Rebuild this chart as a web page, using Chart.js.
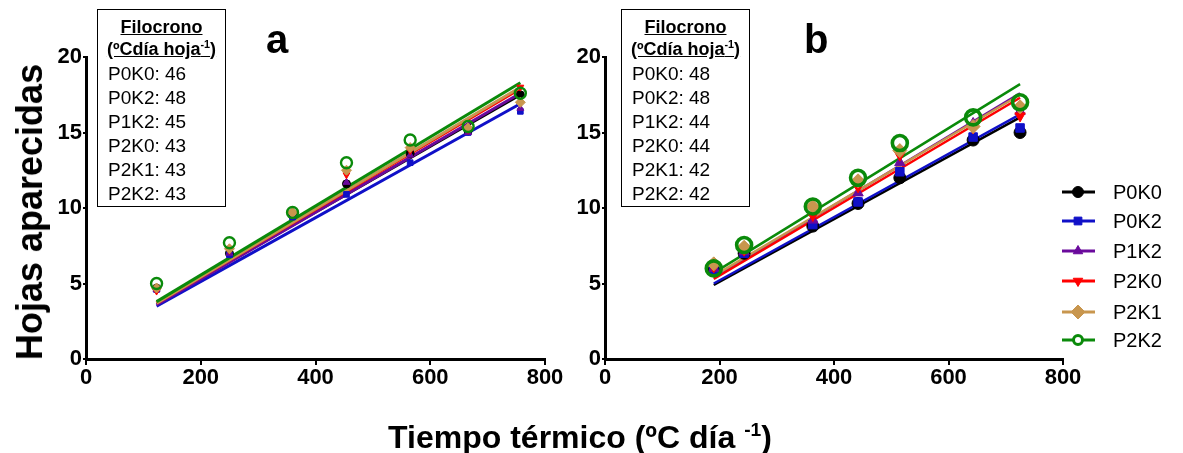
<!DOCTYPE html>
<html>
<head>
<meta charset="utf-8">
<script src="https://cdn.jsdelivr.net/npm/chart.js@4.4.1/dist/chart.umd.min.js"></script>
<style>
  body { margin: 0; background: #fff; font-family: 'Liberation Sans', Arial, sans-serif; }
  #wrap { position: relative; width: 1183px; height: 453px; overflow: hidden; }
  canvas { position: absolute; top: 0; }
  .box { position: absolute; top: 9px; width: 129px; height: 198px; border: 1.5px solid #000; font-size: 19px; line-height: 24px; padding-left: 10px; box-sizing: border-box; }
  .box .t { font-weight: bold; text-decoration: underline; text-align: center; margin-left: -10px; font-size: 18px; line-height: 22px; }
  .box .t1 { margin-top: 6px; }
  .box sup { line-height: 0; font-size: 0.6em; }
  .rows { margin-top: 2px; }
  .letter { position: absolute; font-weight: bold; font-size: 40px; }
  .ytitle { position: absolute; left: 30px; top: 212px; transform: translate(-50%, -50%) rotate(-90deg); font-weight: bold; font-size: 36px; white-space: nowrap; }
  .xtitle { position: absolute; left: 580px; top: 437px; transform: translate(-50%, -50%); font-weight: bold; font-size: 32px; white-space: nowrap; }
  .xtitle sup { font-size: 0.6em; line-height: 0; }
</style>
</head>
<body>
<div id="wrap">
  <canvas id="chartA" width="580" height="453" style="left:0;width:580px;height:453px"></canvas>
  <canvas id="chartB" width="663" height="453" style="left:520px;width:663px;height:453px"></canvas>
  <div class="box" style="left:97px">
    <div class="t t1">Filocrono</div>
    <div class="t">(ºCdía hoja<sup>-1</sup>)</div>
    <div class="rows" id="rowsA"></div>
  </div>
  <div class="box" style="left:621px">
    <div class="t t1">Filocrono</div>
    <div class="t">(ºCdía hoja<sup>-1</sup>)</div>
    <div class="rows" id="rowsB"></div>
  </div>
  <div class="letter" style="left:266px;top:17px">a</div>
  <div class="letter" style="left:804px;top:17px">b</div>
  <div class="ytitle">Hojas aparecidas</div>
  <div class="xtitle">Tiempo térmico (ºC día <sup>-1</sup>)</div>
</div>
<script>
const series = ['P0K0', 'P0K2', 'P1K2', 'P2K0', 'P2K1', 'P2K2'];
const colors = ['#000000', '#1010c8', '#6a0a9c', '#ff0000', '#c8964e', '#0a8a0a'];

// panel a
const xA = [123, 250, 360, 454, 565, 666, 757];
const P0K0_a = [4.7, 7.0, 9.5, 11.6, 13.6, 15.1, 17.5];
const P0K2_a = [4.6, 6.9, 9.4, 10.9, 13.0, 15.0, 16.4];
const P1K2_a = [4.6, 7.0, 9.5, 11.7, 13.5, 15.0, 16.6];
const P2K0_a = [4.5, 7.2, 9.6, 12.2, 13.8, 15.2, 18.0];
const P2K1_a = [4.7, 7.3, 9.7, 12.5, 14.0, 15.3, 17.0];
const P2K2_a = [5.0, 7.7, 9.7, 13.0, 14.5, 15.4, 17.6];
const fitXA = [123, 757];
const fitA = [[3.7, 17.5], [3.5, 16.9], [3.6, 17.6], [3.7, 17.9], [3.7, 18.0], [3.8, 18.3]];
const filoA = [46, 48, 45, 43, 43, 43];

// panel b
const xB = [190, 243, 363, 442, 515, 643, 725];
const P0K0_b = [5.9, 7.0, 8.8, 10.3, 12.0, 14.5, 15.0];
const P0K2_b = [5.8, 7.0, 8.9, 10.4, 12.4, 14.7, 15.3];
const P1K2_b = [6.0, 7.1, 9.2, 11.0, 13.0, 15.6, 16.4];
const P2K0_b = [6.1, 7.2, 9.5, 11.4, 13.5, 15.3, 16.1];
const P2K1_b = [6.3, 7.4, 10.1, 11.8, 13.8, 15.4, 16.7];
const P2K2_b = [6.0, 7.55, 10.1, 12.0, 14.3, 16.0, 17.0];
const fitXB = [190, 725];
const fitB = [[4.9, 16.0], [5.0, 16.2], [5.4, 17.6], [5.3, 17.3], [5.5, 17.5], [5.7, 18.2]];
const filoB = [48, 48, 44, 44, 42, 42];

const xTicks = [0, 200, 400, 600, 800];
const yTicks = [0, 5, 10, 15, 20];

const styles = [
  {pointStyle: 'circle', rotation: 0},
  {pointStyle: 'rect', rotation: 0},
  {pointStyle: 'triangle', rotation: 0},
  {pointStyle: 'triangle', rotation: 180},
  {pointStyle: 'rectRot', rotation: 0},
  {pointStyle: 'circle', rotation: 0}
];

document.getElementById('rowsA').innerHTML = series.map((s, i) => `<div>${s}: ${filoA[i]}</div>`).join('');
document.getElementById('rowsB').innerHTML = series.map((s, i) => `<div>${s}: ${filoB[i]}</div>`).join('');

const tickFont = {family: "'Liberation Sans', Arial, sans-serif", size: 22, weight: 'bold'};

function makeDatasets(xs, vals, fitX, fits, r, lw) {
  const ds = [];
  vals.forEach((v, i) => {
    const open = i === 5;
    ds.push({
      label: series[i],
      data: xs.map((x, k) => ({x: x, y: v[k]})),
      showLine: false,
      pointStyle: styles[i].pointStyle,
      rotation: styles[i].rotation,
      pointRadius: open ? r + 1.5 : (i === 4 ? r + 1 : r),
      pointBorderWidth: open ? r * 0.6 : 1,
      pointBackgroundColor: open ? 'rgba(0,0,0,0)' : colors[i],
      pointBorderColor: colors[i],
      order: 10 - i
    });
  });
  fits.forEach((f, i) => {
    ds.push({
      label: series[i] + ' fit',
      data: fitX.map((x, k) => ({x: x, y: f[k]})),
      showLine: true,
      borderColor: colors[i],
      borderWidth: lw,
      pointRadius: 0,
      order: 30 - i
    });
  });
  return ds;
}

function scalesCfg(yWidth) {
  return {
    x: {
      type: 'linear', min: 0, max: 800,
      afterBuildTicks: s => { s.ticks = xTicks.map(v => ({value: v})); },
      afterFit: s => { s.height = 40; },
      grid: {drawOnChartArea: false, color: '#000', lineWidth: 2, tickLength: 6},
      border: {color: '#000', width: 3},
      ticks: {color: '#000', font: tickFont, padding: 0, maxRotation: 0}
    },
    y: {
      type: 'linear', min: 0, max: 20,
      afterBuildTicks: s => { s.ticks = yTicks.map(v => ({value: v})); },
      afterFit: s => { s.width = yWidth; },
      grid: {drawOnChartArea: false, color: '#000', lineWidth: 2, tickLength: 3},
      border: {color: '#000', width: 3},
      ticks: {color: '#000', font: tickFont, padding: 1}
    }
  };
}

// legend with line + marker, drawn next to panel b
const lineLegend = {
  id: 'lineLegend',
  afterDraw(chart) {
    const ctx = chart.ctx;
    const rows = [192, 221, 251, 281, 312, 340];
    ctx.save();
    series.forEach((s, i) => {
      const y = rows[i];
      ctx.strokeStyle = colors[i];
      ctx.lineWidth = 3;
      ctx.beginPath();
      ctx.moveTo(542, y);
      ctx.lineTo(575, y);
      ctx.stroke();
      ctx.fillStyle = i === 5 ? '#fff' : colors[i];
      ctx.strokeStyle = colors[i];
      ctx.lineWidth = i === 5 ? 3 : 1;
      Chart.helpers.drawPoint(ctx, {
        pointStyle: styles[i].pointStyle,
        rotation: styles[i].rotation,
        radius: i === 5 ? 4.5 : (i === 4 ? 7 : 5.5),
        borderWidth: i === 5 ? 3 : 1
      }, 558, y);
      ctx.fillStyle = '#000';
      ctx.font = "20px 'Liberation Sans', Arial, sans-serif";
      ctx.textBaseline = 'middle';
      ctx.fillText(s, 593, y + 1);
    });
    ctx.restore();
  }
};

new Chart(document.getElementById('chartA'), {
  type: 'scatter',
  data: {datasets: makeDatasets(xA, [P0K0_a, P0K2_a, P1K2_a, P2K0_a, P2K1_a, P2K2_a], fitXA, fitA, 4, 3)},
  options: {
    responsive: false, animation: false,
    layout: {padding: {left: 0, top: 57, right: 35, bottom: 54}},
    plugins: {legend: {display: false}, tooltip: {enabled: false}},
    scales: scalesCfg(86)
  }
});

new Chart(document.getElementById('chartB'), {
  type: 'scatter',
  data: {datasets: makeDatasets(xB, [P0K0_b, P0K2_b, P1K2_b, P2K0_b, P2K1_b, P2K2_b], fitXB, fitB, 6, 2.5)},
  plugins: [lineLegend],
  options: {
    responsive: false, animation: false,
    layout: {padding: {left: 0, top: 57, right: 120, bottom: 54}},
    plugins: {legend: {display: false}, tooltip: {enabled: false}},
    scales: scalesCfg(85)
  }
});
</script>
</body>
</html>
